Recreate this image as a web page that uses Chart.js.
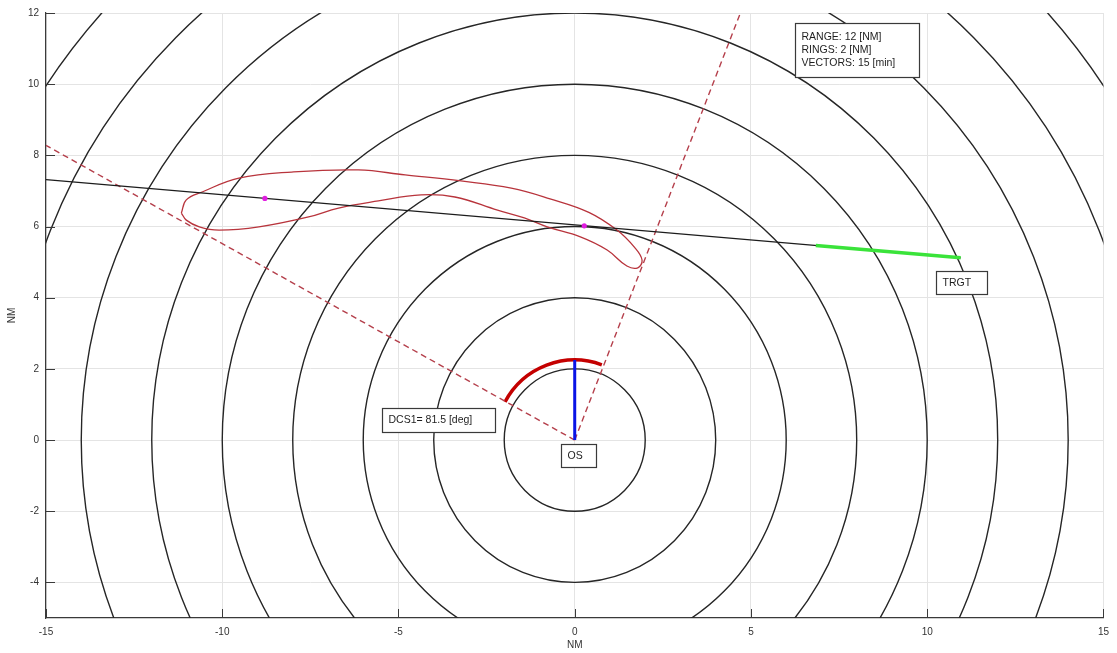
<!DOCTYPE html>
<html>
<head>
<meta charset="utf-8">
<title>Relative motion plot</title>
<script src="https://cdn.jsdelivr.net/npm/chart.js@4.4.1/dist/chart.umd.min.js"></script>
<style>
  html, body { margin: 0; padding: 0; background: #ffffff; }
  canvas { display: block; }
</style>
</head>
<body>
<canvas id="plot" width="1117" height="653"></canvas>
<script>
// Axis ticks (NM)
const xTicks = [-15, -10, -5, 0, 5, 10, 15];
const yTicks = [-4, -2, 0, 2, 4, 6, 8, 10, 12];

// Range rings around own ship (NM)
const ringRadii = [2, 4, 6, 8, 10, 12, 14, 16, 18];

// Target relative track, from the left edge to the target position
const trackX = [-15, 10.95];
const trackY = [7.32, 5.12];

// Target relative vector (15 min)
const vectorX = [6.84, 10.95];
const vectorY = [5.47, 5.12];

// Points marked on the relative track
const markX = [-8.79, 0.27];
const markY = [6.79, 6.02];

// Bearing limits drawn from own ship
const limitLeftX = [0, -15];
const limitLeftY = [0, 8.28];
const limitRightX = [0, 4.7];
const limitRightY = [0, 12];

// Own ship heading vector
const headingX = [0, 0];
const headingY = [0, 2.25];

// Uncertainty contour around the track
const contourX = [-11.16, -11.02, -10.57, -9.53, -8.03, -6.14, -4.81, -3.23, -1.80, -0.70, 0.40, 1.20, 1.71, 1.91, 1.79, 1.48, 0.92, 0.16, -0.78, -1.43, -2.19, -3.40, -4.36, -5.57, -6.70, -7.55, -8.96, -10.09, -10.65, -11.02, -11.16];
const contourY = [6.38, 6.75, 6.97, 7.36, 7.53, 7.59, 7.45, 7.28, 7.08, 6.78, 6.40, 5.90, 5.40, 5.06, 4.84, 4.89, 5.34, 5.71, 5.99, 6.24, 6.46, 6.83, 6.89, 6.72, 6.52, 6.27, 5.99, 5.90, 5.99, 6.18, 6.38];

// Course sector arc
const dcsValue = 81.5;     // deg
const dcsStart = -61.5;    // deg, bearing of the sector start
const dcsRadius = 2.25;    // NM

// Annotation texts
const infoLines = ['RANGE: 12 [NM]', 'RINGS: 2 [NM]', 'VECTORS: 15 [min]'];
const dcsLabel = 'DCS1= ' + dcsValue + ' [deg]';
const ownLabel = 'OS';
const targetLabel = 'TRGT';

const pts = (xs, ys) => xs.map((x, i) => ({ x: x, y: ys[i] }));

const FONT = 'Liberation Sans, Arial, Helvetica, sans-serif';

// Annotation boxes: anchor (top-left) in data units, box size in px
const boxes = [
  { lines: infoLines, x: 6.25, y: 11.71, w: 124, h: 54 },
  { lines: [dcsLabel], x: -5.46, y: 0.91, w: 113, h: 24 },
  { lines: [ownLabel], x: -0.38, y: -0.10, w: 35, h: 23 },
  { lines: [targetLabel], x: 10.26, y: 4.75, w: 51, h: 23 }
];

const overlay = {
  id: 'overlay',
  beforeDatasetsDraw(chart) {
    const { ctx, chartArea: a, scales: { x, y } } = chart;
    const cx = x.getPixelForValue(0), cy = y.getPixelForValue(0);
    ctx.save();
    ctx.beginPath();
    ctx.rect(a.left, a.top, a.right - a.left, a.bottom - a.top);
    ctx.clip();
    // range rings
    ctx.strokeStyle = '#262626';
    ctx.lineWidth = 1.4;
    ringRadii.forEach(r => {
      const rx = x.getPixelForValue(r) - cx;
      const ry = cy - y.getPixelForValue(r);
      ctx.beginPath();
      ctx.ellipse(cx, cy, rx, ry, 0, 0, Math.PI * 2);
      ctx.stroke();
    });
    // course sector arc
    const rx = x.getPixelForValue(dcsRadius) - cx;
    const ry = cy - y.getPixelForValue(dcsRadius);
    const a0 = (dcsStart - 90) * Math.PI / 180;
    const a1 = (dcsStart + dcsValue - 90) * Math.PI / 180;
    ctx.strokeStyle = '#c40000';
    ctx.lineWidth = 3.5;
    ctx.beginPath();
    ctx.ellipse(cx, cy, rx, ry, 0, a0, a1, false);
    ctx.stroke();
    ctx.restore();
  },
  afterDraw(chart) {
    const { ctx, chartArea: a, scales: { x, y } } = chart;
    ctx.save();
    // inward tick marks on the left and bottom axes
    ctx.strokeStyle = '#3a3a3a';
    ctx.lineWidth = 1;
    const tl = 9;
    xTicks.forEach(v => {
      const px = Math.round(x.getPixelForValue(v)) + 0.5;
      ctx.beginPath();
      ctx.moveTo(px, a.bottom);
      ctx.lineTo(px, a.bottom - tl);
      ctx.stroke();
    });
    yTicks.forEach(v => {
      const py = Math.round(y.getPixelForValue(v)) + 0.5;
      ctx.beginPath();
      ctx.moveTo(a.left, py);
      ctx.lineTo(a.left + tl, py);
      ctx.stroke();
    });
    // annotation boxes
    ctx.font = '10.5px ' + FONT;
    ctx.textBaseline = 'middle';
    ctx.textAlign = 'left';
    boxes.forEach(b => {
      const bx = Math.round(x.getPixelForValue(b.x)) + 0.5;
      const by = Math.round(y.getPixelForValue(b.y)) + 0.5;
      ctx.fillStyle = '#ffffff';
      ctx.fillRect(bx, by, b.w, b.h);
      ctx.strokeStyle = '#3a3a3a';
      ctx.lineWidth = 1.2;
      ctx.strokeRect(bx, by, b.w, b.h);
      ctx.fillStyle = '#1e1e1e';
      const lh = 13;
      const top = by + b.h / 2 - (b.lines.length - 1) * lh / 2;
      b.lines.forEach((t, i) => ctx.fillText(t, bx + 6, top + i * lh));
    });
    ctx.restore();
  }
};

const line = (data, color, width, extra) => Object.assign({
  data: data, showLine: true, borderColor: color, backgroundColor: color,
  borderWidth: width, pointRadius: 0, fill: false
}, extra || {});

new Chart(document.getElementById('plot'), {
  type: 'scatter',
  data: {
    datasets: [
      line(pts(markX, markY), '#e01ee0', 0, { showLine: false, pointRadius: 2.6, pointBorderWidth: 0 }),
      line(pts(headingX, headingY), '#0a14e6', 3),
      line(pts(vectorX, vectorY), '#3ae33a', 3.5),
      line(pts(trackX, trackY), '#1c1c1c', 1.3),
      line(pts(contourX, contourY), '#b8343c', 1.3, { tension: 0.4 }),
      line(pts(limitLeftX, limitLeftY), '#b5404c', 1.4, { borderDash: [6, 4] }),
      line(pts(limitRightX, limitRightY), '#b5404c', 1.4, { borderDash: [6, 4] })
    ]
  },
  options: {
    responsive: false,
    animation: false,
    layout: { padding: { top: 13, right: 8, left: 0, bottom: 0 } },
    plugins: { legend: { display: false }, tooltip: { enabled: false } },
    elements: { line: { borderCapStyle: 'butt' } },
    scales: {
      x: {
        type: 'linear', min: -15, max: 15,
        afterBuildTicks: s => { s.ticks = xTicks.map(v => ({ value: v })); },
        afterFit: s => { s.height = 35; },
        grid: { color: '#e4e4e4', lineWidth: 1, drawTicks: false },
        border: { display: true, color: '#3a3a3a', width: 1.2 },
        ticks: { padding: 8, color: '#333333', font: { family: FONT, size: 10 }, maxRotation: 0 },
        title: { display: true, text: 'NM', color: '#333333', font: { family: FONT, size: 10 }, padding: { top: 0, bottom: 2 } }
      },
      y: {
        type: 'linear', min: -5, max: 12,
        afterBuildTicks: s => { s.ticks = yTicks.map(v => ({ value: v })); },
        afterFit: s => { s.width = 46; },
        grid: { color: '#e4e4e4', lineWidth: 1, drawTicks: false },
        border: { display: true, color: '#3a3a3a', width: 1.2 },
        ticks: { padding: 7, color: '#333333', font: { family: FONT, size: 10 } },
        title: { display: true, text: 'NM', color: '#333333', font: { family: FONT, size: 10 }, padding: { top: 6, bottom: 0 } }
      }
    }
  },
  plugins: [overlay]
});
</script>
</body>
</html>
